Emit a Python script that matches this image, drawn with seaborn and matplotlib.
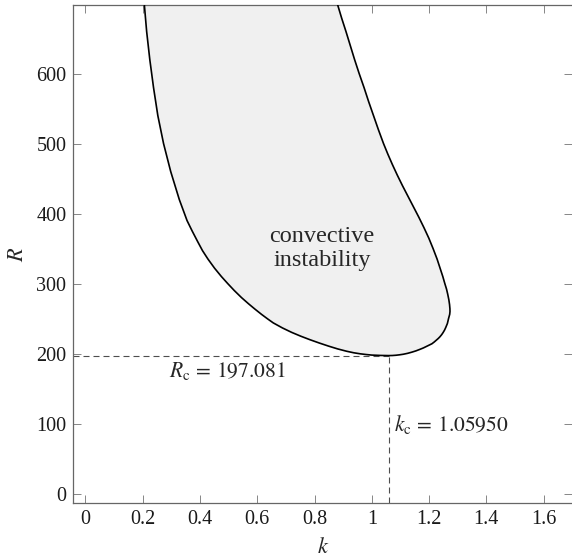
import seaborn as sns
import pandas as pd
import matplotlib.pyplot as plt

# neutral stability curve (closed loop, clockwise)
k_curve = [0.206, 0.214, 0.225, 0.238, 0.253, 0.273, 0.298, 0.328, 0.355, 0.373,
           0.392, 0.409, 0.428, 0.451, 0.475, 0.497, 0.520, 0.545, 0.570, 0.592,
           0.615, 0.636, 0.656, 0.688, 0.720, 0.752, 0.784, 0.817, 0.850, 0.881,
           0.912, 0.937, 0.960, 0.980, 1.000, 1.030, 1.0595,
           1.072, 1.085, 1.097, 1.110, 1.125, 1.140, 1.154, 1.168, 1.180,
           1.190, 1.200, 1.210, 1.218, 1.225, 1.232, 1.238, 1.244, 1.249, 1.254,
           1.258, 1.261, 1.264, 1.266, 1.268, 1.270, 1.272, 1.273, 1.2728, 1.2715,
           1.269, 1.265, 1.261, 1.255, 1.248, 1.240, 1.228, 1.214, 1.199, 1.182,
           1.164, 1.145, 1.126, 1.107, 1.089, 1.072, 1.056, 1.041, 1.023, 1.006,
           0.989, 0.973, 0.956, 0.940, 0.925, 0.910, 0.895, 0.881]
R_curve = [698, 660, 620, 580, 540, 500, 460, 420, 390, 375,
           360, 347, 335, 322, 310, 300, 290, 280, 271, 263.5,
           256, 249.6, 243.8, 236.6, 230.3, 224.8, 219.8, 215, 210.5, 206.6,
           203.3, 201.1, 199.6, 198.6, 197.8, 197.3, 197.081,
           197.2, 197.6, 198.2, 199, 200.3, 202, 203.8, 206, 208,
           210, 212, 214, 216.5, 219, 221.5, 224, 227, 230, 233.5,
           237, 240, 243, 246.5, 250, 253, 256, 260, 264, 270,
           277, 285, 292, 300, 310, 320, 335, 350, 365, 380,
           395, 410, 425, 440, 455, 470, 485, 500, 520, 540,
           560, 580, 600, 620, 640, 660, 679, 698]

k_c = 1.05950
R_c = 197.081

x_ticks = [0, 0.2, 0.4, 0.6, 0.8, 1.0, 1.2, 1.4, 1.6]
x_ticklabels = ["0", "0.2", "0.4", "0.6", "0.8", "1", "1.2", "1.4", "1.6"]
y_ticks = [0, 100, 200, 300, 400, 500, 600]

sns.set_style("ticks")
plt.rcParams["font.family"] = ["Liberation Serif", "DejaVu Serif"]
plt.rcParams["mathtext.fontset"] = "stix"

df = pd.DataFrame({"k": k_curve, "R": R_curve})

fig = plt.figure(figsize=(5.72, 5.58), dpi=100)
ax = fig.add_axes([0.1282, 0.0980, 0.8718, 0.8930])

xlim = (-0.042, 1.699)
ylim = (-14, 698)

ax.fill(df["k"], df["R"], color="#f0f0f0", lw=0, zorder=1)
sns.lineplot(data=df, x="k", y="R", sort=False, estimator=None,
             color="black", lw=1.2, ax=ax, zorder=3)

ax.hlines(R_c, xlim[0], k_c, colors="0.3", lw=0.8, linestyles=(0, (5.4, 3.6)), zorder=2)
ax.vlines(k_c, ylim[0], R_c, colors="0.3", lw=0.8, linestyles=(0, (5.4, 3.6)), zorder=2)

ax.text(0.826, 350, "convective\ninstability", ha="center", va="center",
        fontsize=17.5, linespacing=1.2)
ax.text(0.495, 175, r"$R_{\mathrm{c}}\,=\,197.081$", ha="center", va="center", fontsize=15.5)
ax.text(1.076, 99, r"$k_{\mathrm{c}}\,=\,1.05950$", ha="left", va="center", fontsize=15.5)

ax.set_xlim(*xlim)
ax.set_ylim(*ylim)
ax.set_xticks(x_ticks)
ax.set_xticklabels(x_ticklabels)
ax.set_yticks(y_ticks)
ax.set_xlabel(r"$k$", fontsize=16, labelpad=6)
ax.set_ylabel(r"$R$", fontsize=16, labelpad=6)

ax.tick_params(direction="in", length=6, width=0.6, color="0.45",
               top=True, right=True, labelsize=14.5, pad=5, labelcolor="0.1")
for side in ["left", "bottom", "top"]:
    ax.spines[side].set_color("0.4")
    ax.spines[side].set_linewidth(0.9)
ax.spines["right"].set_visible(False)

fig.savefig("out.png", dpi=100)
